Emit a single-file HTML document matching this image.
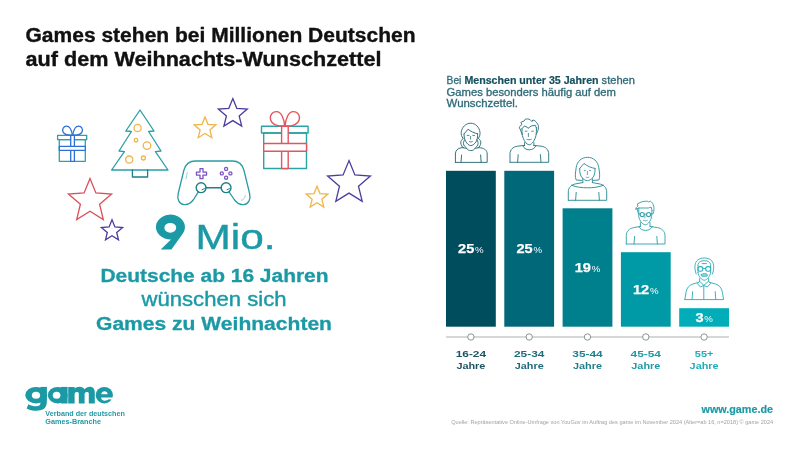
<!DOCTYPE html>
<html lang="de">
<head>
<meta charset="utf-8">
<title>Games auf dem Weihnachts-Wunschzettel</title>
<style>
  html, body { margin: 0; padding: 0; background: #ffffff; }
  body { width: 799px; height: 450px; overflow: hidden; font-family: "Liberation Sans", sans-serif; }
  svg { display: block; will-change: transform; }
  text { font-family: "Liberation Sans", sans-serif; }
  .ol { fill: none; stroke-linejoin: round; stroke-linecap: round; }
</style>
</head>
<body>
<svg width="799" height="450" viewBox="0 0 799 450">
  <rect x="0" y="0" width="799" height="450" fill="#ffffff"/>

  <g fill="#111111" font-weight="bold" font-size="19.5" stroke="#111111" stroke-width="0.35">
    <text x="25.5" y="42" textLength="390" lengthAdjust="spacingAndGlyphs">Games stehen bei Millionen Deutschen</text>
    <text x="25.5" y="65.6" textLength="356" lengthAdjust="spacingAndGlyphs">auf dem Weihnachts-Wunschzettel</text>
  </g>

  <g class="ol" stroke-width="1.3">
    <rect x="57.6" y="135.3" width="29.1" height="4.3" stroke="#2aa3a6"/>
    <rect x="59.3" y="139.6" width="26" height="21.7" stroke="#2aa3a6"/>
    <rect x="70.7" y="135.3" width="3.7" height="26" fill="#ffffff" stroke="#2f6fd6"/>
    <rect x="59.3" y="146.3" width="26" height="4" fill="#ffffff" stroke="#2f6fd6"/>
    <path d="M72.4 135.2C71.6 130.5 70 126.2 66.6 126.2C63.4 126.2 62 129.2 63 131.8C64.3 134.8 69 135.4 72.4 135.2Z" stroke="#2f6fd6"/>
    <path d="M72.7 135.2C73.5 130.5 75.1 126.2 78.5 126.2C81.7 126.2 83.1 129.2 82.1 131.8C80.8 134.8 76.1 135.4 72.7 135.2Z" stroke="#2f6fd6"/>
  </g>

  <g class="ol" stroke-width="1.3">
    <path d="M140 110L154 131L148.6 131.5L161 151L155.4 151.6L168 170H111.6L124.4 151.6L119 151L131.4 131.5L125.8 131Z" stroke="#2a9fa6"/>
    <path d="M132.4 170V177H147.6V170" stroke="#1f7f86"/>
    <g stroke="#f1b44a">
      <circle cx="137.6" cy="128" r="3.6"/>
      <circle cx="136" cy="140.2" r="1.8"/>
      <circle cx="147" cy="145.6" r="3.8"/>
      <circle cx="129.2" cy="159.6" r="3.6"/>
      <circle cx="143.4" cy="158" r="2"/>
    </g>
  </g>
  <g fill="none" stroke-width="1.3" stroke-linejoin="miter">
    <path d="M205.0 116.9L208.0 124.3L215.9 124.8L209.9 130.0L211.8 137.7L205.0 133.5L198.2 137.7L200.1 130.0L194.1 124.8L202.0 124.3Z" stroke="#f1b44a"/>
    <path d="M232.8 98.6L236.8 108.3L247.3 109.1L239.2 115.9L241.7 126.1L232.8 120.6L223.9 126.1L226.4 115.9L218.3 109.1L228.8 108.3Z" stroke="#4d3c9e"/>
    <path d="M90.0 178.4L95.9 192.9L111.6 194.1L99.6 204.2L103.3 219.5L90.0 211.2L76.7 219.5L80.4 204.2L68.4 194.1L84.1 192.9Z" stroke="#d9505b"/>
    <path d="M112.0 219.8L114.9 226.9L122.6 227.5L116.7 232.4L118.5 239.9L112.0 235.8L105.5 239.9L107.3 232.4L101.4 227.5L109.1 226.9Z" stroke="#4d3c9e"/>
    <path d="M349.0 160.6L354.9 175.0L370.4 176.1L358.5 186.2L362.2 201.3L349.0 193.1L335.8 201.3L339.5 186.2L327.6 176.1L343.1 175.0Z" stroke="#4d3c9e"/>
    <path d="M317.0 186.2L320.0 193.6L327.9 194.1L321.9 199.3L323.8 207.0L317.0 202.8L310.2 207.0L312.1 199.3L306.1 194.1L314.0 193.6Z" stroke="#f1b44a"/>
  </g>

  <g class="ol" stroke-width="1.4">
    <rect x="261.5" y="126.3" width="46.6" height="6.7" stroke="#2aa3a6"/>
    <rect x="263.7" y="133" width="42.8" height="35.5" stroke="#2aa3a6"/>
    <rect x="281.6" y="126.3" width="6.6" height="42.2" fill="#ffffff" stroke="#e0565f"/>
    <rect x="263.7" y="143.5" width="42.8" height="7.7" fill="#ffffff" stroke="#e0565f"/>
    <path d="M284.7 126.2C284.2 119 281.5 111.6 276.5 111.6C271.8 111.6 269.3 116 270.6 120C272.3 125 279 126.4 284.7 126.2Z" stroke="#e0565f"/>
    <path d="M285.1 126.2C285.6 119 288.3 111.6 293.3 111.6C298 111.6 300.5 116 299.2 120C297.5 125 290.8 126.4 285.1 126.2Z" stroke="#e0565f"/>
  </g>

  <g class="ol" stroke-width="1.3">
    <path stroke="#2a9ca3" d="M195.5 161H232.3C239 161 242.6 165 244 170.5L249.6 193.5C251 199.5 248.5 204 243.6 204.6C239.5 205 236.6 202.8 234.2 199.5L229.2 192.2M198.2 192.2L193.6 199.5C191.2 202.8 188.3 205 184.2 204.6C179.3 204 176.8 199.5 178.2 193.5L183.8 170.5C185.2 165 188.8 161 195.5 161"/>
    <path stroke="#1d7f88" stroke-width="1.5" d="M206 187.7H221.2"/>
    <circle cx="201.1" cy="187.7" r="4.9" stroke="#1d7f88" stroke-width="1.4"/>
    <circle cx="226.1" cy="187.7" r="4.9" stroke="#1d7f88" stroke-width="1.4"/>
    <path stroke="#7a52c4" d="M200 168.55H203V172.1H206.55V175.1H203V178.65H200V175.1H196.45V172.1H200Z"/>
    <g stroke="#7a52c4">
      <circle cx="226.1" cy="168.9" r="1.55"/>
      <circle cx="226.1" cy="177.7" r="1.55"/>
      <circle cx="221.8" cy="173.4" r="1.55"/>
      <circle cx="230.4" cy="173.4" r="1.55"/>
    </g>
    <path stroke="#1d7f88" stroke-width="1" d="M202 189.8L204.4 188.6M227 189.8L229.4 188.6"/>
    <path stroke="#8fd0d4" stroke-width="0.9" d="M187.3 172.4L185.9 178.9M245.3 195.5C245.2 198 243.6 199.8 241.3 200.3"/>
  </g>

  <g fill="#1b9aa6">
    <path fill-rule="evenodd" d="M160.7 249.6H171.4L183.05 233.2A14.55 12.4 0 1 0 171 239.4ZM176.2 227.8A5.9 4.9 0 1 0 164.4 227.8A5.9 4.9 0 1 0 176.2 227.8Z"/>
    <text x="195.5" y="249.2" font-size="34.2" textLength="80" lengthAdjust="spacingAndGlyphs" stroke="#1b9aa6" stroke-width="0.4" stroke-linejoin="round">Mio.</text>
    <g font-size="18.7" stroke="#1b9aa6" stroke-width="0.3">
      <text x="100.5" y="282" font-weight="bold" textLength="228" lengthAdjust="spacingAndGlyphs">Deutsche ab 16 Jahren</text>
      <text x="141.5" y="305.8" font-size="19.4" textLength="145" lengthAdjust="spacingAndGlyphs" stroke-width="0.4">wünschen sich</text>
      <text x="96" y="330.1" font-weight="bold" textLength="236" lengthAdjust="spacingAndGlyphs">Games zu Weihnachten</text>
    </g>
  </g>

  <g fill="#1b9aa6">
    <!-- g -->
    <ellipse cx="36.1" cy="395.2" rx="10.8" ry="8.3"/>
    <rect x="40.4" y="386.9" width="6.5" height="13"/>
    <path d="M46.9 399C46.9 404 46.6 407 43.6 409C41.6 410.3 39 410.7 36.6 410.7C32.6 410.7 29.4 410 26.6 408.4L28.4 404.2C31 405.6 33.6 406.2 36 406.2C39 406.2 40.4 405.2 40.4 403V399Z"/>
    <!-- a -->
    <ellipse cx="57.7" cy="395.2" rx="9.9" ry="8.3"/>
    <rect x="61.1" y="386.9" width="6.5" height="16.6"/>
    <!-- m -->
    <path d="M68.2 386.9H74.6V388.6C75.8 387.4 77.6 386.7 79.6 386.7C81.8 386.7 83.6 387.6 84.6 389.2C85.8 387.6 87.8 386.7 89.8 386.7C93 386.7 94.8 388.8 94.8 392.4V403.5H88.8V393.8C88.8 392.5 88.1 391.9 87 391.9C85.6 391.9 84.6 392.8 84.6 394.2V403.5H78.8V393.8C78.8 392.5 78.1 391.9 77 391.9C75.6 391.9 74.6 392.8 74.6 394.2V403.5H68.2Z"/>
    <!-- e -->
    <ellipse cx="104.3" cy="395.2" rx="8.6" ry="8.3"/>
  </g>
  <g fill="#ffffff">
    <ellipse cx="36" cy="395.3" rx="4.1" ry="3.5"/>
    <ellipse cx="56.6" cy="395.3" rx="3.8" ry="3.5"/>
    <path d="M101.3 394.3C101.5 392.4 102.8 391.2 104.5 391.2C106.2 391.2 107.5 392.4 107.7 394.3Z"/>
    <path d="M101 397.4H113.4V399.7L108.6 399.3C107.6 400.3 106.2 400.7 104.8 400.7C102.9 400.7 101.4 399.5 101 397.4Z"/>
  </g>
  <g font-size="6.7" font-weight="bold" fill="#2199a6">
    <text x="45.3" y="416" textLength="79.6" lengthAdjust="spacingAndGlyphs">Verband der deutschen</text>
    <text x="45.3" y="424" textLength="55.8" lengthAdjust="spacingAndGlyphs">Games-Branche</text>
  </g>

  <g font-size="10.1" fill="#2f6b7a" stroke="#2f6b7a" stroke-width="0.3">
    <text x="446.6" y="83.5"><tspan textLength="14.8" lengthAdjust="spacingAndGlyphs">Bei</tspan><tspan x="464.4" font-weight="bold" fill="#15505f" stroke="#15505f" stroke-width="0.2" textLength="134.2" lengthAdjust="spacingAndGlyphs">Menschen unter 35 Jahren</tspan><tspan x="601.6" textLength="33.4" lengthAdjust="spacingAndGlyphs">stehen</tspan></text>
    <text x="446.6" y="95.6" textLength="169.4" lengthAdjust="spacingAndGlyphs">Games besonders häufig auf dem</text>
    <text x="446.6" y="107.2" textLength="71.4" lengthAdjust="spacingAndGlyphs">Wunschzettel.</text>
  </g>
  <g>
    <rect x="446.0" y="170.8" width="49.8" height="155.9" fill="#004d5e"/>
    <rect x="504.3" y="170.8" width="49.8" height="155.9" fill="#006878"/>
    <rect x="562.6" y="208.3" width="49.8" height="118.4" fill="#007f8c"/>
    <rect x="620.9" y="252.2" width="49.8" height="74.5" fill="#009aa6"/>
    <rect x="679.2" y="308.2" width="49.8" height="18.5" fill="#00adb8"/>
  </g>
  <path d="M446 337H729" stroke="#a9b1b3" stroke-width="1.15" fill="none"/>
  <g fill="#ffffff" stroke="#8a9496" stroke-width="1">
    <circle cx="470.9" cy="337" r="3.2"/>
    <circle cx="529.2" cy="337" r="3.2"/>
    <circle cx="587.5" cy="337" r="3.2"/>
    <circle cx="645.8" cy="337" r="3.2"/>
    <circle cx="704.1" cy="337" r="3.2"/>
  </g>
  <g fill="#ffffff">
    <text x="458.1" y="253.2" font-size="12.9" font-weight="bold" textLength="16.2" lengthAdjust="spacingAndGlyphs" stroke="#ffffff" stroke-width="0.25">25</text><text x="475.1" y="253.2" font-size="9.6" textLength="8.6" lengthAdjust="spacingAndGlyphs">%</text>
    <text x="516.4" y="253.2" font-size="12.9" font-weight="bold" textLength="16.2" lengthAdjust="spacingAndGlyphs" stroke="#ffffff" stroke-width="0.25">25</text><text x="533.4" y="253.2" font-size="9.6" textLength="8.6" lengthAdjust="spacingAndGlyphs">%</text>
    <text x="574.7" y="271.9" font-size="12.9" font-weight="bold" textLength="16.2" lengthAdjust="spacingAndGlyphs" stroke="#ffffff" stroke-width="0.25">19</text><text x="591.7" y="271.9" font-size="9.6" textLength="8.6" lengthAdjust="spacingAndGlyphs">%</text>
    <text x="633.0" y="293.9" font-size="12.9" font-weight="bold" textLength="16.2" lengthAdjust="spacingAndGlyphs" stroke="#ffffff" stroke-width="0.25">12</text><text x="650.0" y="293.9" font-size="9.6" textLength="8.6" lengthAdjust="spacingAndGlyphs">%</text>
    <text x="695.4" y="321.7" font-size="12.9" font-weight="bold" textLength="8.1" lengthAdjust="spacingAndGlyphs" stroke="#ffffff" stroke-width="0.25">3</text><text x="704.2" y="321.7" font-size="9.6" textLength="8.6" lengthAdjust="spacingAndGlyphs">%</text>
  </g>
  <g font-size="9.9" font-weight="bold" text-anchor="middle">
    <text x="470.9" y="357" fill="#1d5463" textLength="30.4" lengthAdjust="spacingAndGlyphs">16-24</text><text x="470.9" y="369" fill="#1d5463" textLength="29" lengthAdjust="spacingAndGlyphs">Jahre</text>
    <text x="529.2" y="357" fill="#1f6b7a" textLength="30.4" lengthAdjust="spacingAndGlyphs">25-34</text><text x="529.2" y="369" fill="#1f6b7a" textLength="29" lengthAdjust="spacingAndGlyphs">Jahre</text>
    <text x="587.5" y="357" fill="#1f7f8c" textLength="30.4" lengthAdjust="spacingAndGlyphs">35-44</text><text x="587.5" y="369" fill="#1f7f8c" textLength="29" lengthAdjust="spacingAndGlyphs">Jahre</text>
    <text x="645.8" y="357" fill="#1f9aa6" textLength="30.4" lengthAdjust="spacingAndGlyphs">45-54</text><text x="645.8" y="369" fill="#1f9aa6" textLength="29" lengthAdjust="spacingAndGlyphs">Jahre</text>
    <text x="704.1" y="357" fill="#1fadb8" textLength="18.5" lengthAdjust="spacingAndGlyphs">55+</text><text x="704.1" y="369" fill="#1fadb8" textLength="29" lengthAdjust="spacingAndGlyphs">Jahre</text>
  </g>
  <g class="ol" stroke-width="0.95">
    <!-- person 1: girl with pigtails -->
    <g stroke="#2c6b79">
      <path d="M463 138.4C461.4 136.4 461 134 461.2 132.4C461.8 127.2 465.8 123.2 470.7 123.2C475.6 123.2 479.4 127.2 480 132.4C480.2 134 479.8 136.4 478.4 138.4"/>
      <path d="M464 134L468 129.2C470.6 131.4 474.6 133.2 477.6 133.8M464 134C464 137 464.6 139.4 465.6 141.2C466.8 143.6 469 145.6 470.8 145.6C472.6 145.6 475.2 143.6 476.4 141.2C477.2 139.4 477.8 137 477.6 133.8"/>
      <path d="M463.2 138.4C461.4 139.8 460.6 141.4 460.8 143C461 145.2 462.2 147 463.6 147.8C464.4 148.2 465.6 148.4 466.4 148.2M464.6 139.8C463.4 141.2 463.2 143.4 463.8 145C464.2 146 465 146.8 465.6 147.2M478.4 138.4C480.2 139.8 481 141.4 480.8 143C480.6 145.2 479.4 147 478 147.8C477.2 148.2 476 148.4 475.2 148.2M477 139.8C478.2 141.2 478.4 143.4 477.8 145C477.4 146 476.6 146.8 476 147.2"/>
      <path d="M466.4 148.2C467.4 149.8 468.9 150.6 470.8 150.6C472.7 150.6 474.2 149.8 475.2 148.2"/>
      <path d="M455.4 162.4V154C455.4 150.4 457.8 148.4 461 147.8L463.6 147.6M478 147.6L480.8 147.8C484.4 148.4 487.2 150.4 487.2 154V162.4H455.4M461.6 155L461 162.4M480.6 155L481.2 162.4"/>
      <path d="M467.2 135.4H469M472.8 135.4H474.6M470.6 136.4V139.2M469.4 141.6C470.2 142.1 471.6 142.1 472.4 141.6" stroke-width="0.8"/>
    </g>
    <!-- person 2: young man -->
    <g stroke="#2d7985">
      <path d="M520.4 129.6C519.4 128.4 519.2 127.4 519.6 126.6L522 124.4L520.8 122.4L524.4 120.8L525.2 119.2C526.8 118.8 528.6 118.9 530 119.6L532 121.6L532.8 120C534.6 120.4 536 121.4 536.8 122.8C538 124.4 538.6 125.6 538.4 126.8C538.6 128.4 538.2 130 537.6 131.2L536.4 134"/>
      <path d="M520.4 129.6L522.2 134.6M522 128.6L524.4 126L527.2 127.2L528 128.4L531.2 126L535.2 125.2L536.4 127.8"/>
      <path d="M522 128.6C521.8 131 522 133.4 522.4 135.6C523.2 139.4 526.4 144.8 529.2 144.8C532 144.8 535.2 139.4 536 135.4C536.4 132.8 536.6 130.4 536.4 127.8"/>
      <path d="M524.6 142.6V145.6M533.9 142.6V145.6M522.7 145.6C523.6 148.2 526.2 149.8 529.3 149.8C532.4 149.8 535 148.2 535.9 145.6"/>
      <path d="M510 162.3V154C510 149.6 513 146.8 517.4 146.2L524.6 145.4M533.9 145.4L541.2 146.2C545.6 146.8 548.7 149.6 548.7 154V162.3H510M518.2 154.6L517.6 162.3M540.4 154.6L541 162.3"/>
      <path d="M525.2 131.2H527M531.6 131.2H533.4M528.4 133.4V136.6M526.8 139.4C527.8 139.9 530.2 139.9 531.2 139.4" stroke-width="0.8"/>
    </g>
    <!-- person 3: woman with bob -->
    <g stroke="#2f8d98">
      <path d="M581.6 180.4L576.2 180C574.6 177 575.6 172 576.2 167.6C577 161.4 581.6 157.3 587.5 157.3C593.4 157.3 598 161.4 598.8 167.6C599.4 172 600.4 177 598.8 180L593.4 180.4"/>
      <path d="M579.7 168.4L584 163.4C586.8 166 591.6 168 595 168.4M579.7 168.4C579.5 172.6 580.4 175.8 582.2 177.8C583.8 179.6 585.6 180.6 587.4 180.6C589.2 180.6 591 179.6 592.6 177.8C594.4 175.8 595.2 172.6 595 168.4"/>
      <path d="M582.8 178.6V182.6M592.4 178.6V182.6"/>
      <path d="M568.3 200.3V192C568.3 187.6 571.4 184.6 576 183.8L582.8 182.6M592.4 182.6L599 183.8C603.6 184.6 606.7 187.6 606.7 192V200.3H568.3M576.2 192.4L575.6 200.3M598.8 192.4L599.4 200.3"/>
      <path d="M571.6 185.2C576 187.2 582 187.8 587.5 187.8C593 187.8 599 187.2 603.4 185.2"/>
      <path d="M584.2 170.6H585.4M589.4 170.6H590.6M587.4 171.4V174.6M586.2 177.2C587 177.7 588 177.7 588.8 177.2" stroke-width="0.75"/>
    </g>
    <!-- person 4: man with glasses -->
    <g stroke="#3aa3ad">
      <path d="M635.8 209.2C635.6 208 636.4 207 638 206L637.2 204L641.2 202C643 201.4 645.4 201.1 647.2 201.2L648.8 202L650.4 201.2C651.8 202 652.8 203.4 653.2 204.8C653.8 206 654.1 207.4 654 208.8C654 210.4 653.7 212 653.2 213.4"/>
      <path d="M635.8 209.2L638.8 208H648.4L651.2 207.2L652 210.4M637 208.8L638.4 213.6"/>
      <path d="M638.8 208V216.8C639.4 220.4 642.6 224.8 645.3 224.8C648 224.8 651 220.4 651.6 216.6L652 210.4"/>
      <circle cx="642.2" cy="214.6" r="2.05" stroke-width="1.1"/><circle cx="648.6" cy="214.6" r="2.05" stroke-width="1.1"/>
      <path d="M644.3 214.2H646.5M638.8 214H640.1M650.7 214.1L652.8 213.8"/>
      <path d="M640.4 222.6V226.4M650 222.6V226.4M638.8 226.4C639.8 229 642.4 230.4 645.6 230.4C648.8 230.4 651.4 229 652.4 226.4"/>
      <path d="M626.3 244V235.6C626.3 231.2 629.4 228.4 633.8 227.6L640.4 226.4M650 226.4L657.4 227.6C661.8 228.4 665 231.2 665 235.6V244H626.3M634.6 236.4L634 244M656.8 236.4L657.4 244"/>
      <path d="M644.9 215.6V218M643.4 220.4C644.4 221 646.4 221 647.4 220.4" stroke-width="0.8"/>
    </g>
    <!-- person 5: older man -->
    <g stroke="#2fb1ba">
      <path d="M696.2 274C695 271.4 694.8 268 695 265.4C695.4 260.8 699 258 704.3 258C709.6 258 713.2 260.8 713.6 265.4C713.8 268 713.6 271.4 712.4 274"/>
      <path d="M698 272.6V264.4C698.6 261.8 701 260.7 704.3 260.7C707.6 260.7 710 261.8 710.6 264.4V272.6M698 272.6C698.6 276.4 701.6 280.2 704.3 280.2C707 280.2 710 276.4 710.6 272.6"/>
      <path d="M702.2 263.6H706.4"/>
      <rect x="697.9" y="266.6" width="5" height="4.6" rx="2.1" stroke-width="1.05"/><rect x="705.7" y="266.6" width="5" height="4.6" rx="2.1" stroke-width="1.05"/>
      <path d="M702.9 268.4H705.7"/>
      <path d="M701.4 274.4C702.2 273.4 706.4 273.4 707.2 274.4C707.6 275.2 707.4 276 706.8 276.2H701.8C701.2 276 701 275.2 701.4 274.4Z" fill="#2fb1ba" fill-opacity="0.45"/>
      <path d="M699.6 278.6V281.2L703.8 285.4L708.6 281.2V278.6M699.6 281.2L697.4 283.6L700.4 287L703.8 285.4L707.2 287L710.6 283.6L708.6 281.2"/>
      <path d="M684.8 299.6L686 292.2C686.8 287.6 689.4 285 693 284L698.4 282.4M709.8 282.4L715.4 284C719 285 721.6 287.6 722.4 292.2L723.6 299.6H684.8M703.8 285.4V299.6M692.6 291.6L692 299.6M715.2 291.6L715.8 299.6"/>
    </g>
  </g>

  <text x="701.5" y="412.7" font-size="11.8" font-weight="bold" fill="#1b9aa6" textLength="71.5" lengthAdjust="spacingAndGlyphs" stroke="#1b9aa6" stroke-width="0.2">www.game.de</text>
  <text x="451.2" y="423.9" font-size="4.6" fill="#a3a3a3" textLength="322" lengthAdjust="spacingAndGlyphs">Quelle: Repräsentative Online-Umfrage von YouGov im Auftrag des game im November 2024 (Alter=ab 16, n=2018) © game 2024</text>

</svg>
</body>
</html>
